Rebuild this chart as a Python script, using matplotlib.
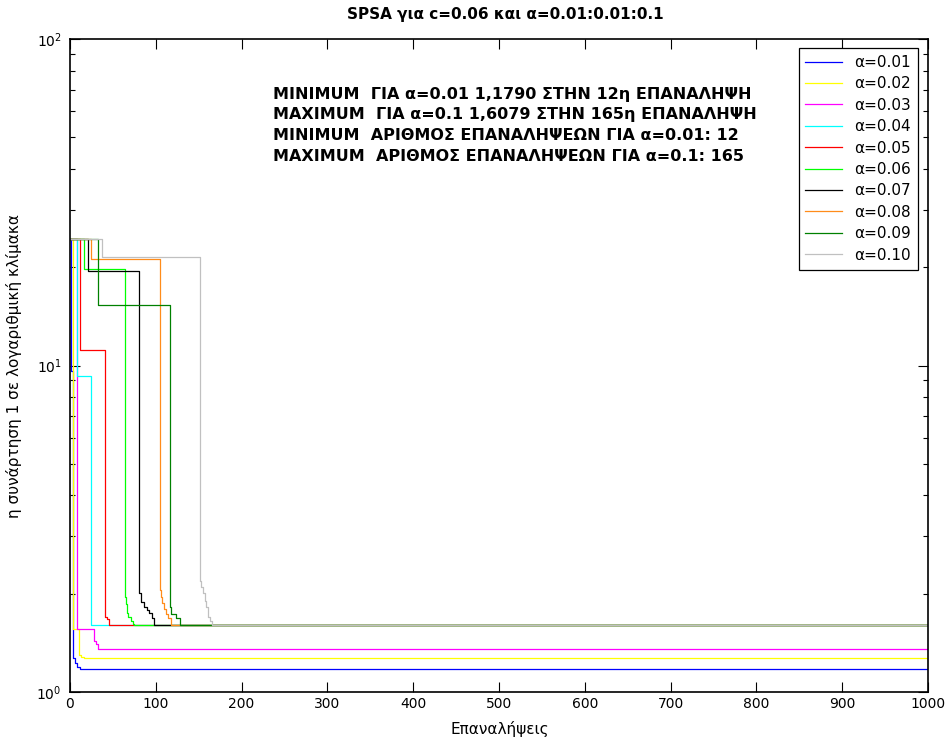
import numpy as np
import matplotlib.pyplot as plt
from matplotlib.ticker import LogLocator, NullFormatter, FixedLocator

plt.rcParams['font.family'] = ['DejaVu Sans']

# step breakpoints (iteration, value)
alphas = ["0.01", "0.02", "0.03", "0.04", "0.05", "0.06", "0.07", "0.08", "0.09", "0.10"]
colors = ["#0000ff", "#ffff00", "#ff00ff", "#00ffff", "#ff0000",
          "#00ff00", "#000000", "#ff8c1a", "#008000", "#c0c0c0"]

it_001 = [0, 1, 3, 4, 6, 8, 12, 1000]
v_001 = [24.4, 9.6, 1.56, 1.27, 1.224, 1.196, 1.179, 1.179]
it_002 = [0, 3, 11, 13, 16, 1000]
v_002 = [24.4, 1.56, 1.30, 1.28, 1.268, 1.268]
it_003 = [0, 8, 28, 30, 33, 1000]
v_003 = [24.4, 1.56, 1.43, 1.40, 1.354, 1.354]
it_004 = [0, 8, 25, 1000]
v_004 = [24.4, 9.29, 1.607, 1.607]
it_005 = [0, 12, 41, 43, 46, 1000]
v_005 = [24.4, 11.16, 1.70, 1.67, 1.607, 1.607]
it_006 = [0, 16, 64, 65, 66, 67, 68, 71, 73, 75, 1000]
v_006 = [24.4, 19.75, 1.96, 1.86, 1.79, 1.74, 1.70, 1.65, 1.62, 1.607, 1.607]
it_007 = [0, 21, 81, 83, 86, 90, 92, 95, 98, 1000]
v_007 = [24.4, 19.47, 2.01, 1.89, 1.82, 1.78, 1.74, 1.69, 1.607, 1.607]
it_008 = [0, 25, 105, 106, 107, 109, 112, 114, 118, 1000]
v_008 = [24.4, 21.2, 2.05, 1.95, 1.87, 1.80, 1.73, 1.68, 1.607, 1.607]
it_009 = [0, 33, 116, 118, 124, 128, 1000]
v_009 = [24.4, 15.3, 1.82, 1.73, 1.68, 1.607, 1.607]
it_010 = [0, 37, 151, 153, 155, 157, 159, 161, 163, 165, 1000]
v_010 = [24.4, 21.5, 2.18, 2.10, 2.006, 1.90, 1.825, 1.70, 1.65, 1.6079, 1.6079]

iters = [it_001, it_002, it_003, it_004, it_005, it_006, it_007, it_008, it_009, it_010]
vals = [v_001, v_002, v_003, v_004, v_005, v_006, v_007, v_008, v_009, v_010]

notes = [
    "MINIMUM  ΓΙΑ α=0.01 1,1790 ΣΤΗΝ 12η ΕΠΑΝΑΛΗΨΗ",
    "MAXIMUM  ΓΙΑ α=0.1 1,6079 ΣΤΗΝ 165η ΕΠΑΝΑΛΗΨΗ",
    "MINIMUM  ΑΡΙΘΜΟΣ ΕΠΑΝΑΛΗΨΕΩΝ ΓΙΑ α=0.01: 12",
    "MAXIMUM  ΑΡΙΘΜΟΣ ΕΠΑΝΑΛΗΨΕΩΝ ΓΙΑ α=0.1: 165",
]

W, H = 951, 744
fig = plt.figure(figsize=(W / 100, H / 100), dpi=100)
ax = fig.add_axes([70 / W, 1 - 692 / H, 858 / W, 653 / H])

for a, c, x, y in zip(alphas, colors, iters, vals):
    ax.plot(x, y, drawstyle='steps-post', color=c, lw=0.9, label="α=" + a)

ax.set_yscale('log')
ax.set_xlim(0, 1000)
ax.set_ylim(1, 100)
ax.xaxis.set_major_locator(FixedLocator(np.arange(0, 1001, 100)))
ax.yaxis.set_major_locator(LogLocator(base=10))
ax.yaxis.set_minor_locator(LogLocator(base=10, subs=np.arange(2, 10)))
ax.yaxis.set_minor_formatter(NullFormatter())
ax.tick_params(which='both', direction='in', top=True, right=True, labelsize=10)
ax.tick_params(which='major', length=7, width=0.8)
ax.tick_params(which='minor', length=3.5, width=0.8)
ax.tick_params(axis='y', pad=6)
for s in ax.spines.values():
    s.set_linewidth(1.2)

ax.set_xlabel("Επαναλήψεις", fontsize=11)
ax.set_ylabel("η συνάρτηση 1 σε λογαριθμική κλίμακα", fontsize=11)
ax.xaxis.set_label_coords((500 - 70) / 858, (692 - 721) / 653)
ax.yaxis.set_label_coords((22 - 70) / 858, 0.5)
fig.text(505 / W, 1 - 14 / H, "SPSA για c=0.06 και α=0.01:0.01:0.1",
         ha='center', va='center', fontsize=11, fontweight='bold')

for i, t in enumerate(notes):
    fig.text(273 / W, 1 - (94 + 20.7 * i) / H, t, ha='left', va='center',
             fontsize=11.5, fontweight='bold')

leg = ax.legend(loc='upper right', bbox_to_anchor=((918 - 70) / 858, (692 - 48) / 653),
                borderaxespad=0, fontsize=11, handlelength=2.4, handletextpad=0.8,
                labelspacing=0.42, fancybox=False, framealpha=1, edgecolor='black',
                borderpad=0.45)
leg.get_frame().set_linewidth(0.9)

fig.savefig("out.png", dpi=100)
